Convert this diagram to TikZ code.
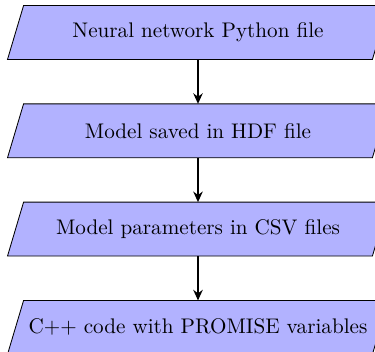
\documentclass[tikz,border=0pt]{standalone}
\usetikzlibrary{arrows.meta,backgrounds}
\begin{document}
\begin{tikzpicture}[x=0.473pt,y=-0.473pt,
  iobox/.style={rectangle, minimum width=172.2pt, minimum height=25.1pt, inner sep=0pt},
  para/.style={draw=black, fill=blue!30},
  flow/.style={thick,-{Stealth[length=5pt,width=4.5pt]}}]
\useasboundingbox (0,0) rectangle (375,352);
\node[iobox] (a) at (198,32.5) {Neural network Python file};
\node[iobox] (b) at (198,130.8) {Model saved in HDF file};
\node[iobox] (c) at (198,229.1) {Model parameters in CSV files};
\node[iobox] (d) at (198,327.4) {C++ code with PROMISE variables};
\begin{scope}[on background layer]
\foreach \n in {a,b,c,d}
  \draw[para] ([xshift=3.8pt]\n.north west) -- ([xshift=3.8pt]\n.north east)
    -- ([xshift=-3.8pt]\n.south east) -- ([xshift=-3.8pt]\n.south west) -- cycle;
\end{scope}
\draw[flow] (a) -- (b);
\draw[flow] (b) -- (c);
\draw[flow] (c) -- (d);
\end{tikzpicture}
\end{document}
